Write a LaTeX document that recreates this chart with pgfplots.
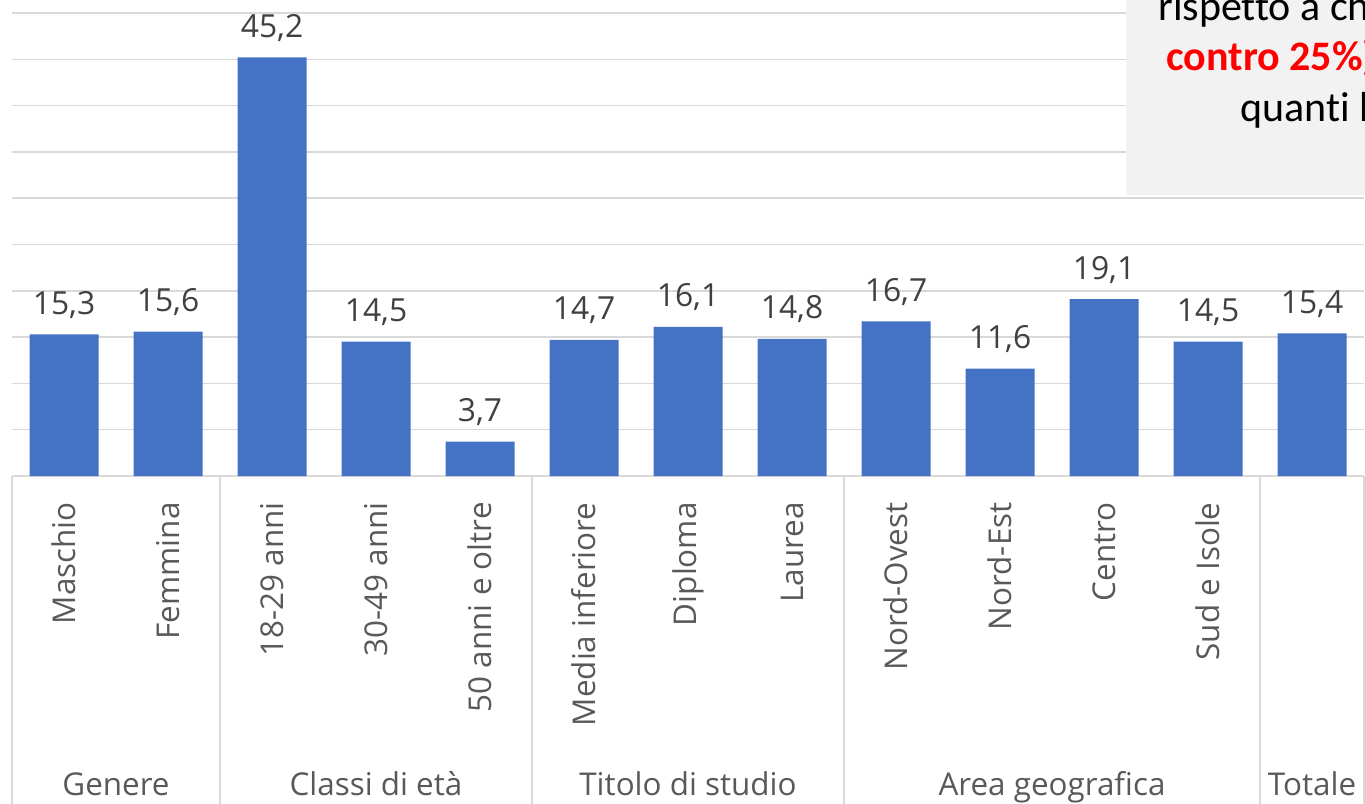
\documentclass[border=0pt]{standalone}
\usepackage{pgfplots}
\pgfplotsset{compat=1.18}
\usepackage{fontspec}
\setmainfont{Open Sans}
\newfontfamily\calib[Ligatures=NoCommon]{Carlito}
\definecolor{barc}{HTML}{4472C4}
\definecolor{lab}{HTML}{595959}
\definecolor{dlab}{HTML}{404040}
\definecolor{gridc}{HTML}{D9D9D9}
\definecolor{boxc}{HTML}{F2F2F2}
\pgfplotstableread{
x y lab
0 15.3 15,3
1 15.6 15,6
2 45.2 45,2
3 14.5 14,5
4 3.7 3,7
5 14.7 14,7
6 16.1 16,1
7 14.8 14,8
8 16.7 16,7
9 11.6 11,6
10 19.1 19,1
11 14.5 14,5
12 15.4 15,4
}\datatable
\begin{document}
\begin{tikzpicture}
\path[use as bounding box] (-6pt,-163.5pt) rectangle (676.5pt,238pt);
\clip (-6pt,-163.5pt) rectangle (676.5pt,238pt);
\begin{axis}[
 at={(0,0)}, anchor=south west,
 scale only axis, width=676pt, height=238pt,
 xmin=-0.5, xmax=12.5, ymin=0, ymax=51.4,
 clip=false,
 ybar, bar width=34.5pt,
 axis line style={draw=none},
 ytick={0,5,...,50}, yticklabels={},
 ymajorgrids, grid style={color=gridc, line width=0.75pt},
 major tick length=0pt,
 xtick={0,...,12},
 xticklabels={Maschio,Femmina,18-29 anni,30-49 anni,50 anni e oltre,Media inferiore,Diploma,Laurea,Nord-Ovest,Nord-Est,Centro,Sud e Isole,{}},
 xticklabel style={yshift=-13pt, rotate=90, anchor=east, inner sep=0pt, font=\fontsize{15.7}{18}\selectfont, text=lab},
]
\fill[boxc, overlay] (axis cs:10.21,30.35) rectangle (axis cs:13,56);
\addplot[fill=barc, draw=none, nodes near coords, point meta=explicit symbolic,
 every node near coord/.append style={anchor=base, yshift=10pt, inner sep=0pt, font=\fontsize{15.9}{18}\selectfont, text=dlab}]
 table[x=x, y=y, meta=lab] {\datatable};
\draw[gridc, line width=0.75pt, overlay] (axis cs:-0.5,0) -- ([yshift=-175pt]axis cs:-0.5,0);
\draw[gridc, line width=0.75pt, overlay] (axis cs:1.5,0) -- ([yshift=-175pt]axis cs:1.5,0);
\draw[gridc, line width=0.75pt, overlay] (axis cs:4.5,0) -- ([yshift=-175pt]axis cs:4.5,0);
\draw[gridc, line width=0.75pt, overlay] (axis cs:7.5,0) -- ([yshift=-175pt]axis cs:7.5,0);
\draw[gridc, line width=0.75pt, overlay] (axis cs:11.5,0) -- ([yshift=-175pt]axis cs:11.5,0);
\draw[gridc, line width=0.75pt, overlay] (axis cs:12.5,0) -- ([yshift=-175pt]axis cs:12.5,0);
\begin{scope}[every node/.style={anchor=base, inner sep=0pt, overlay, font=\fontsize{15.7}{18}\selectfont, text=lab}]
\node at ([yshift=-159.5pt]axis cs:0.5,0) {Genere};
\node at ([yshift=-159.5pt]axis cs:3,0) {Classi di età};
\node at ([yshift=-159.5pt]axis cs:6,0) {Titolo di studio};
\node at ([yshift=-159.5pt]axis cs:9.5,0) {Area geografica};
\node at ([yshift=-159.5pt]axis cs:12,0) {Totale};
\end{scope}
\begin{scope}[every node/.style={anchor=base west, inner sep=0pt, overlay}]
\node[font=\calib\fontsize{21}{24}\selectfont, text=black] at (axis cs:10.519,49.14) {rispetto a chi};
\node[font=\calib\bfseries\fontsize{21}{24}\selectfont, text=red] at (axis cs:10.596,43.74) {contro 25\%)};
\node[font=\calib\fontsize{21}{24}\selectfont, text=black] at (axis cs:11.308,38.23) {quanti hanno};
\end{scope}
\end{axis}
\end{tikzpicture}
\end{document}
